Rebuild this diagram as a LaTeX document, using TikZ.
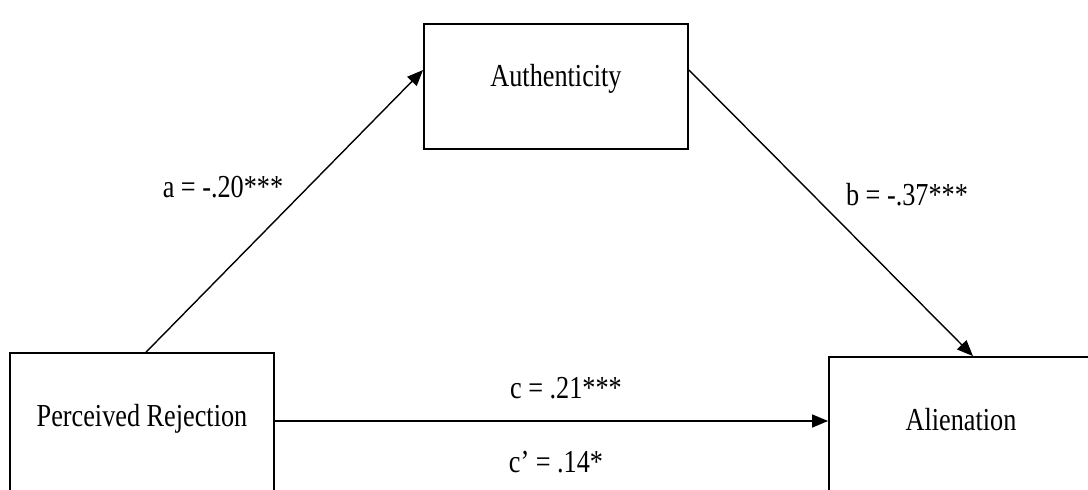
\documentclass[tikz,border=0pt]{standalone}
\usepackage{fontspec}
\setmainfont[FakeStretch=0.82]{Liberation Serif}
\usepackage{tikz}
\usetikzlibrary{arrows.meta}
\usetikzlibrary{calc}
\usetikzlibrary{positioning}

\begin{document}
\begin{tikzpicture}[ x=0.5pt, y=0.5pt, >={Triangle[length=8pt,width=6.5pt]},
      box/.style={draw, line width=0.9pt, minimum width=132pt, text height=9pt,
        text depth=9pt, inner sep=0pt}, path/.style={->, line width=0.7pt},
      every node/.style={font=\fontsize{16}{19}\selectfont} ]

      \useasboundingbox (0,0) rectangle (1088,489);

      % Variables
      \node[box, minimum height=62.5pt] (auth) at (556,402.5) {Authenticity};
      \node[box, minimum height=73pt] (rej) at (142,63) {Perceived Rejection};
      \node[box, minimum height=73pt] (alien) at (961,59) {Alienation};

      % Paths
      \draw[path] ($(rej.north west)+(137,0)$) -- ($(auth.west)+(0,16.5)$);
      \draw[path] ($(auth.east)+(0,16.5)$) -- ($(alien.north)+(12,0)$);
      \draw[path] ($(rej.east)+(0,5)$) coordinate (cfrom) -- (cfrom -| alien.west);

      % Coefficients
      \node[anchor=base] (coefa) at (223,292) {a = -.20***};
      \node[anchor=base] (coefb) at (907,284) {b = -.37***};
      \node[anchor=base] (coefc) at (566,91) {c = .21***};
      \node[anchor=base] (coefcp) at (556,17) {c’ = .14*};
    \end{tikzpicture}
\end{document}
